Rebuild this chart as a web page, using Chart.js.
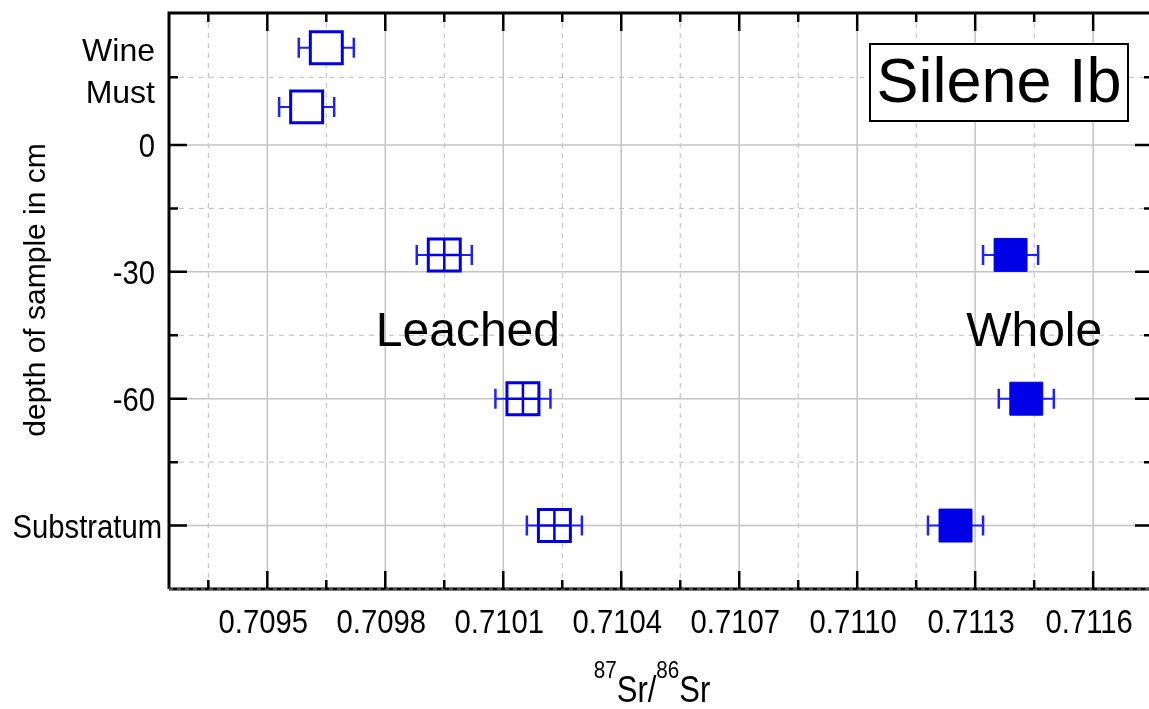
<!DOCTYPE html>
<html>
<head>
<meta charset="utf-8">
<script src="https://cdn.jsdelivr.net/npm/chart.js@4.4.0/dist/chart.umd.min.js"></script>
<style>
  html, body { margin: 0; padding: 0; background: #fff; overflow: hidden; }
</style>
</head>
<body>
<canvas id="chart" width="1149" height="709"></canvas>
<script>
// valores
const leachedLabels = ["Wine", "Must", "-30", "-60", "Substratum"];
const leachedRatio = [0.70965, 0.70960, 0.70995, 0.71015, 0.71023];
const leachedDepth = [23, 9, -26, -60, -90];
const leachedErr = [0.00007, 0.00007, 0.00007, 0.00007, 0.00007];

const wholeLabels = ["-30", "-60", "Substratum"];
const wholeRatio = [0.71139, 0.71143, 0.71125];
const wholeDepth = [-26, -60, -90];
const wholeErr = [0.00007, 0.00007, 0.00007];

const xTickValues = [0.70935, 0.7095, 0.70965, 0.7098, 0.70995, 0.7101, 0.71025, 0.7104,
                     0.71055, 0.7107, 0.71085, 0.7110, 0.71115, 0.7113, 0.71145, 0.7116];
const xTickLabels = ["", "0.7095", "", "0.7098", "", "0.7101", "", "0.7104",
                     "", "0.7107", "", "0.7110", "", "0.7113", "", "0.7116"];
const yTickValues = [16, 0, -15, -30, -45, -60, -75, -90];
const yTickLabels = ["", "0", "", "-30", "", "-60", "", "Substratum"];

const sideLabels = ["Wine", "Must"];
const sideLabelDepth = [22, 12];

const BLUE = "#0000e6";
const WHISKER = "#2020ff";
const SANS = "'Liberation Sans', Arial, sans-serif";
const NARROW = 0.86; // no hay Arial Narrow: se comprime a mano

const toPoints = (xs, ys) => xs.map((v, i) => ({ x: v, y: ys[i] }));
const soil = leachedLabels.map((l, i) => i).filter(i => leachedLabels[i] !== "Wine" && leachedLabels[i] !== "Must");

function narrowText(ctx, text, x, y, size, align) {
    ctx.save();
    ctx.font = size + "px " + SANS;
    ctx.translate(x, y);
    ctx.scale(NARROW, 1);
    ctx.textAlign = align;
    ctx.textBaseline = "alphabetic";
    ctx.fillText(text, 0, 0);
    ctx.restore();
}

// rejilla propia: solida en mayores, punteada en menores
const grid = {
    id: "grid",
    beforeDatasetsDraw(chart) {
        const { ctx, chartArea: a, scales: { x, y } } = chart;
        ctx.save();
        x.ticks.forEach((t, i) => {
            const px = x.getPixelForValue(t.value);
            const major = xTickLabels[i] !== "";
            ctx.strokeStyle = major ? "#c4c4c4" : "#bdbdbd";
            ctx.lineWidth = major ? 1.5 : 1;
            ctx.setLineDash(major ? [] : [5, 5]);
            ctx.beginPath(); ctx.moveTo(px, a.top); ctx.lineTo(px, a.bottom); ctx.stroke();
        });
        y.ticks.forEach((t, i) => {
            const py = y.getPixelForValue(t.value);
            const major = yTickLabels[i] !== "";
            ctx.strokeStyle = major ? "#c4c4c4" : "#bdbdbd";
            ctx.lineWidth = major ? 1.5 : 1;
            ctx.setLineDash(major ? [] : [5, 5]);
            ctx.beginPath(); ctx.moveTo(a.left, py); ctx.lineTo(a.right, py); ctx.stroke();
        });
        ctx.restore();
    }
};

const errorBars = {
    id: "errorBars",
    beforeDatasetsDraw(chart) {
        const { ctx, scales: { x, y } } = chart;
        chart.data.datasets.forEach(ds => {
            if (!ds.xErr) return;
            ctx.save();
            ctx.strokeStyle = WHISKER;
            ds.data.forEach((p, j) => {
                const x0 = x.getPixelForValue(p.x - ds.xErr[j]);
                const x1 = x.getPixelForValue(p.x + ds.xErr[j]);
                const py = y.getPixelForValue(p.y);
                ctx.lineWidth = 2;
                ctx.beginPath(); ctx.moveTo(x0, py); ctx.lineTo(x1, py); ctx.stroke();
                ctx.lineWidth = 2.5;
                ctx.beginPath();
                ctx.moveTo(x0, py - 10); ctx.lineTo(x0, py + 10);
                ctx.moveTo(x1, py - 10); ctx.lineTo(x1, py + 10);
                ctx.stroke();
            });
            ctx.restore();
        });
    }
};

// marco, marcas hacia dentro y textos
const frame = {
    id: "frame",
    afterDatasetsDraw(chart) {
        const { ctx, chartArea: a, scales: { x, y } } = chart;
        const rx = a.right + 4;
        ctx.save();
        ctx.strokeStyle = "#000";
        ctx.lineWidth = 3;
        ctx.beginPath();
        ctx.moveTo(a.left, a.bottom); ctx.lineTo(a.left, a.top); ctx.lineTo(rx, a.top);
        ctx.moveTo(a.left, a.bottom); ctx.lineTo(rx, a.bottom);
        ctx.stroke();
        ctx.strokeStyle = "#9a9a9a"; ctx.lineWidth = 1; ctx.setLineDash([4, 4]);
        ctx.beginPath(); ctx.moveTo(a.left, a.bottom); ctx.lineTo(rx, a.bottom); ctx.stroke();
        ctx.setLineDash([]);

        ctx.strokeStyle = "#000"; ctx.lineWidth = 2.5;
        ctx.beginPath();
        x.ticks.forEach((t, i) => {
            const px = x.getPixelForValue(t.value);
            const len = xTickLabels[i] !== "" ? 18 : 9;
            ctx.moveTo(px, a.bottom); ctx.lineTo(px, a.bottom - len);
            ctx.moveTo(px, a.top); ctx.lineTo(px, a.top + len);
        });
        y.ticks.forEach((t, i) => {
            const py = y.getPixelForValue(t.value);
            const len = yTickLabels[i] !== "" ? 18 : 9;
            ctx.moveTo(a.left, py); ctx.lineTo(a.left + len, py);
            ctx.moveTo(rx, py); ctx.lineTo(rx - len, py);
        });
        ctx.stroke();

        // etiquetas de los ejes
        ctx.fillStyle = "#000";
        x.ticks.forEach((t, i) => {
            if (xTickLabels[i]) narrowText(ctx, xTickLabels[i], x.getPixelForValue(t.value) - 4, 633, 34, "center");
        });
        y.ticks.forEach((t, i) => {
            const lab = yTickLabels[i];
            if (lab) narrowText(ctx, lab, lab === "Substratum" ? 162 : 155, y.getPixelForValue(t.value) + 12, 34, "right");
        });

        // Wine / Must en el eje
        ctx.font = "32px " + SANS;
        ctx.textAlign = "right";
        ctx.textBaseline = "middle";
        sideLabels.forEach((s, i) => ctx.fillText(s, 155, y.getPixelForValue(sideLabelDepth[i])));

        // etiquetas de series
        ctx.font = "48px " + SANS;
        ctx.textAlign = "center";
        ctx.fillText("Leached", x.getPixelForValue(0.71001), y.getPixelForValue(-44.4));
        ctx.fillText("Whole", x.getPixelForValue(0.71145), y.getPixelForValue(-44.4));

        // recuadro del titulo
        ctx.fillStyle = "#fff";
        ctx.fillRect(870, 44, 258, 77);
        ctx.lineWidth = 2;
        ctx.strokeRect(870, 44, 258, 77);
        ctx.fillStyle = "#000";
        ctx.font = "63px " + SANS;
        ctx.fillText("Silene Ib", 999, 85);

        // titulo eje y
        ctx.save();
        ctx.translate(37, 290);
        ctx.rotate(-Math.PI / 2);
        ctx.font = "30px " + SANS;
        ctx.fillText("depth of sample in cm", 0, 0);
        ctx.restore();

        // titulo eje x con superindices
        const parts = [["87", 24, -24], ["Sr/", 36, 0], ["86", 24, -24], ["Sr", 36, 0]];
        let w = 0;
        parts.forEach(p => { ctx.font = p[1] + "px " + SANS; w += ctx.measureText(p[0]).width * NARROW; });
        let cx = 652 - w / 2;
        parts.forEach(p => {
            narrowText(ctx, p[0], cx, 702 + p[2], p[1], "left");
            ctx.font = p[1] + "px " + SANS;
            cx += ctx.measureText(p[0]).width * NARROW;
        });
        ctx.restore();
    }
};

new Chart(document.getElementById("chart").getContext("2d"), {
    type: "scatter",
    data: {
        datasets: [
            {
                label: "Leached cross",
                data: soil.map(i => ({ x: leachedRatio[i], y: leachedDepth[i] })),
                pointStyle: "cross",
                pointRadius: 16,
                borderColor: BLUE,
                borderWidth: 2.5
            },
            {
                label: "Leached",
                data: toPoints(leachedRatio, leachedDepth),
                xErr: leachedErr,
                pointStyle: "rect",
                pointRadius: 22.6,
                backgroundColor: "#fff",
                borderColor: BLUE,
                borderWidth: 3
            },
            {
                label: "Whole",
                data: toPoints(wholeRatio, wholeDepth),
                xErr: wholeErr,
                pointStyle: "rect",
                pointRadius: 23.3,
                backgroundColor: BLUE,
                borderColor: BLUE,
                borderWidth: 1
            }
        ]
    },
    options: {
        responsive: false,
        animation: false,
        events: [],
        layout: { autoPadding: false, padding: { top: 13, right: 0, left: 0, bottom: 0 } },
        plugins: { legend: { display: false }, tooltip: { enabled: false } },
        scales: {
            x: {
                type: "linear",
                min: 0.70925,
                max: 0.711742,
                afterBuildTicks: s => { s.ticks = xTickValues.map(v => ({ value: v })); },
                afterFit: s => {
                    s.height = 120;
                    s.paddingLeft = s.paddingRight = s.paddingTop = s.paddingBottom = 0;
                },
                grid: { display: false, drawTicks: false },
                border: { display: false },
                ticks: { display: false }
            },
            y: {
                type: "linear",
                min: -105,
                max: 31.2,
                afterBuildTicks: s => { s.ticks = yTickValues.map(v => ({ value: v })); },
                afterFit: s => {
                    s.width = 169;
                    s.paddingLeft = s.paddingRight = s.paddingTop = s.paddingBottom = 0;
                },
                grid: { display: false, drawTicks: false },
                border: { display: false },
                ticks: { display: false }
            }
        }
    },
    plugins: [grid, errorBars, frame]
});
</script>
</body>
</html>
